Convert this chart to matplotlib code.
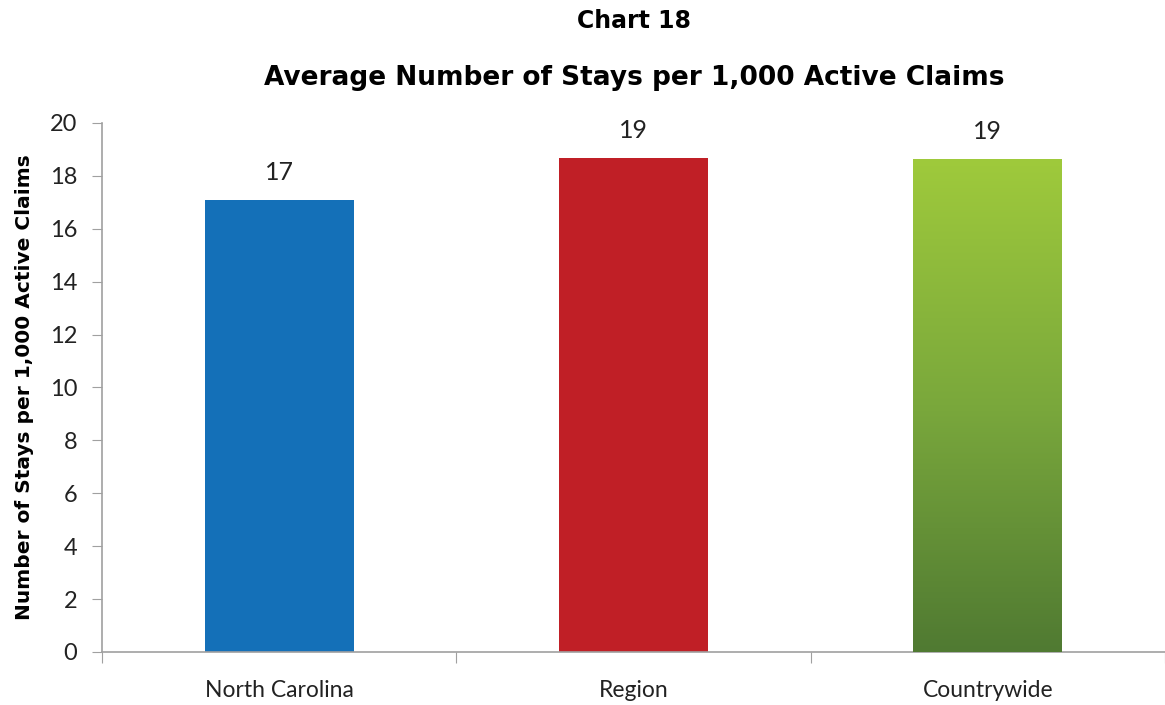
import numpy as np
import matplotlib
matplotlib.use("Agg")
import matplotlib.pyplot as plt
from matplotlib.colors import LinearSegmentedColormap

# ----------------------------
# Datos
# ----------------------------
categories = ["North Carolina", "Region", "Countrywide"]
values = [17.08, 18.68, 18.64]
labels = ["17", "19", "19"]
colors = ["#1470b8", "#c01f26", "#9fca3b"]
y_ticks = [0, 2, 4, 6, 8, 10, 12, 14, 16, 18, 20]

fig = plt.figure(figsize=(11.65, 7.05), dpi=100)
ax = fig.add_axes([0.0876, 0.0752, 0.9124, 0.7504])

x = np.arange(len(categories))
bars = ax.bar(x, values, width=0.42, color=colors, zorder=2)

# gradiente verde para la ultima barra
green = LinearSegmentedColormap.from_list("g", ["#507a32", "#7aa83c", "#9fca3b"])
b = bars[2]
grad = np.linspace(0, 1, 256).reshape(-1, 1)
im = ax.imshow(grad, cmap=green, origin="lower", aspect="auto", zorder=3,
               extent=[b.get_x(), b.get_x() + b.get_width(), 0, b.get_height()])
im.set_clip_path(b)

for i, v in enumerate(values):
    ax.text(x[i], v + 0.6, labels[i], ha="center", va="bottom",
            fontsize=18, family="Lato", color="#222222")

ax.set_xlim(-0.5, 2.43)
ax.set_ylim(0, 20)
ax.set_yticks(y_ticks)
ax.set_yticklabels([str(t) for t in y_ticks], family="Lato", fontsize=17, color="#222222")
ax.set_xticks([-0.5, 0.5, 1.5, 2.5])
ax.set_xticklabels([])
ax.set_xticks(x, minor=True)
ax.set_xticklabels(categories, minor=True, family="Lato", fontsize=16.5, color="#222222")
ax.tick_params(axis="x", which="minor", length=0, pad=20)
ax.tick_params(axis="x", which="major", length=8, color="#a0a0a0")
ax.tick_params(axis="y", length=7, color="#a0a0a0", pad=11)

for s in ["top", "right"]:
    ax.spines[s].set_visible(False)
for s in ["left", "bottom"]:
    ax.spines[s].set_color("#a0a0a0")
    ax.spines[s].set_linewidth(1.2)

ax.set_ylabel("Number of Stays per 1,000 Active Claims", fontsize=14.5,
              fontweight="bold", family="DejaVu Sans", labelpad=11)

fig.text(0.544, 0.97, "Chart 18", ha="center", va="center",
         fontsize=17, fontweight="bold", family="DejaVu Sans")
fig.text(0.544, 0.889, "Average Number of Stays per 1,000 Active Claims",
         ha="center", va="center", fontsize=19, fontweight="bold", family="DejaVu Sans")

fig.savefig("out.png", dpi=100)
